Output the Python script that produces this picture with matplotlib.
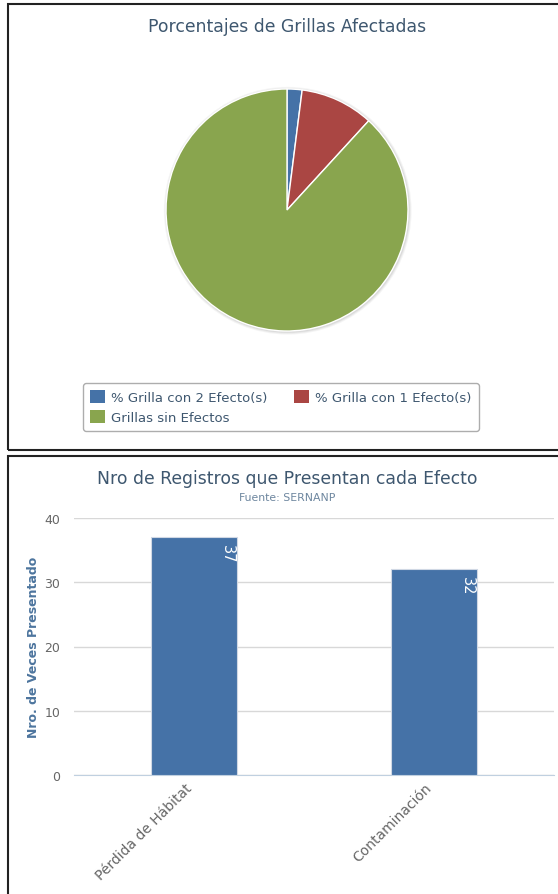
import numpy as np
import matplotlib.pyplot as plt
from matplotlib.patches import Rectangle, Circle

# datos
pie_labels = ['% Grilla con 2 Efecto(s)', '% Grilla con 1 Efecto(s)', 'Grillas sin Efectos']
pie_values = [2.0, 9.8, 88.2]
pie_colors = ['#4572A7', '#AA4643', '#89A54E']

efectos = ['Pérdida de Hábitat', 'Contaminación']
registros = [37, 32]
yticks = [0, 10, 20, 30, 40]

W, H = 558, 895
fig = plt.figure(figsize=(W / 100, H / 100), dpi=100)
plt.rcParams['font.family'] = ['DejaVu Sans']

def fx(x):
    return x / W

def fy(y):
    return 1 - y / H

# marcos
fig.patches.append(Rectangle((fx(8), fy(451)), fx(560) - fx(8), fy(5) - fy(451),
                             transform=fig.transFigure, fill=False, edgecolor='#222222', lw=1.5))
fig.patches.append(Rectangle((fx(8), fy(897)), fx(560) - fx(8), fy(457) - fy(897),
                             transform=fig.transFigure, fill=False, edgecolor='#222222', lw=1.5))

# ---- pie ----
r = 121
cx, cy = 287, 211
ax1 = fig.add_axes([fx(cx - r - 4), fy(cy + r + 4), (2 * r + 8) / W, (2 * r + 8) / H])
lim = (r + 4) / r
for k, a in enumerate([0.06, 0.05, 0.04]):
    ax1.add_patch(Circle((0.006, -0.006), 1 + 0.008 * (k + 1), color='black', alpha=a, lw=0, zorder=0))
wedges, _ = ax1.pie(pie_values, colors=pie_colors, startangle=90, counterclock=False,
                    wedgeprops=dict(edgecolor='white', linewidth=1, zorder=2))
ax1.set_aspect('auto')
ax1.set_xlim(-lim, lim)
ax1.set_ylim(-lim, lim)
fig.text(fx(287), fy(27), 'Porcentajes de Grillas Afectadas', ha='center', va='center',
         fontsize=12.4, color='#3E576F')

handles = [wedges[0], wedges[2], wedges[1]]
labs = [pie_labels[0], pie_labels[2], pie_labels[1]]
leg = fig.legend(handles, labs, ncol=2, loc='upper left',
                 bbox_to_anchor=(fx(83), fy(384)), borderaxespad=0, frameon=True, fontsize=9.5,
                 handlelength=1.1, handleheight=1.1, handletextpad=0.5,
                 columnspacing=2.0, labelspacing=0.45, borderpad=0.55,
                 labelcolor='#3E576F', fancybox=True)
leg.get_frame().set_edgecolor('#999999')
leg.get_frame().set_linewidth(1)
for h in leg.legend_handles:
    h.set_edgecolor('none')

# ---- barras ----
x0, x1 = 74, 554
y0, y1 = 776, 519
ax2 = fig.add_axes([fx(x0), fy(y0), (x1 - x0) / W, (y0 - y1) / H])
pos = np.arange(len(efectos))
bars = ax2.bar(pos, registros, width=0.36, color='#4572A7', edgecolor='#d0d8e4', linewidth=0.8, zorder=3)
ax2.set_xlim(-0.5, len(efectos) - 0.5)
ax2.set_ylim(0, 40)
ax2.set_yticks(yticks)
ax2.grid(axis='y', color='#d8d8d8', lw=1, zorder=0)
for s in ['top', 'right', 'left']:
    ax2.spines[s].set_visible(False)
ax2.spines['bottom'].set_color('#c0d0e0')
ax2.tick_params(axis='y', length=0, labelsize=9, labelcolor='#666666', pad=10)
ax2.tick_params(axis='x', length=0, pad=4)
ax2.set_xticks(pos - 0.04)
ax2.set_xticklabels(efectos, rotation=45, ha='right', rotation_mode='anchor',
                    fontsize=10, color='#666666')
ax2.set_ylabel('Nro. de Veces Presentado', fontsize=9, fontweight='bold', color='#4D759E', labelpad=3)
for b, v in zip(bars, registros):
    ax2.text(b.get_x() + b.get_width() - 0.01, v - 1.0, str(v), rotation=270,
             ha='right', va='top', color='white', fontsize=10.5, zorder=4)

fig.text(fx(287), fy(479), 'Nro de Registros que Presentan cada Efecto', ha='center', va='center',
         fontsize=12.4, color='#3E576F')
fig.text(fx(287), fy(498), 'Fuente: SERNANP', ha='center', va='center',
         fontsize=7.8, color='#6D869F')

fig.savefig('out.png', dpi=100)
